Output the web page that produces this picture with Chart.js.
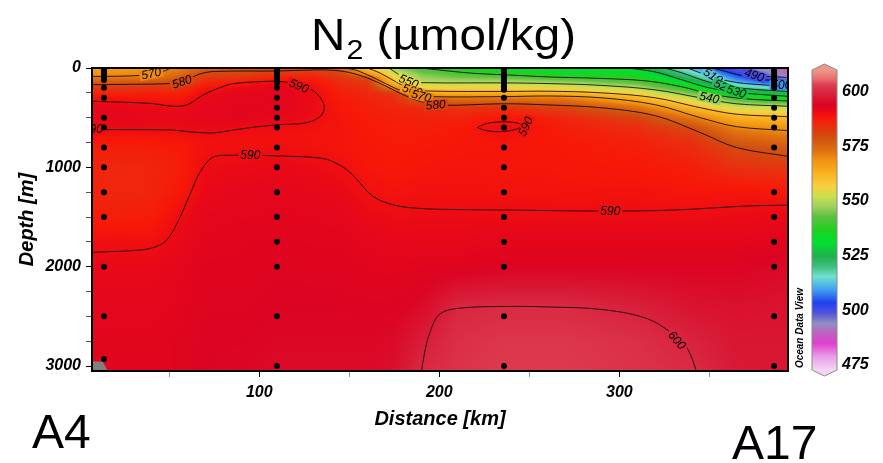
<!DOCTYPE html>
<html>
<head>
<meta charset="utf-8">
<script src="https://cdn.jsdelivr.net/npm/chart.js@4.4.1/dist/chart.umd.min.js"></script>
<style>
  html, body { margin: 0; padding: 0; background: #fff; }
</style>
</head>
<body>
<canvas id="chart" width="883" height="463"></canvas>
<script>
// ---- gridded N2 field: one profile (values at gridDepth) per distance in gridKm
const gridKm = [7, 20, 40, 55, 70, 90, 110, 130, 145, 160, 175, 190, 210, 236, 270, 310, 340, 365, 394];
const gridDepth = [0, 25, 60, 100, 150, 200, 250, 300, 400, 500, 600, 700, 800, 1000, 1250, 1500, 1750, 2000, 2400, 2750, 3060];
const n2Profiles = [
  [565, 567, 568.5, 572, 578, 583, 586, 589, 591.5, 591.5, 590.3, 588.5, 587, 586, 586.5, 587.5, 589.5, 591, 592, 592.5, 592.5],
  [566, 567.5, 569.5, 572.5, 578, 583, 586, 588.8, 591.5, 592, 590.5, 588.5, 587, 585.5, 585.5, 587, 589.7, 591, 592, 592.5, 592.5],
  [568, 569, 569.8, 573, 579, 583.5, 586.5, 588.5, 590.6, 591.5, 590.6, 588.7, 587.2, 586, 586, 587.5, 589.5, 591, 592, 592.5, 592.5],
  [571, 572, 574, 576.5, 580, 583.5, 586, 588, 590.3, 591.5, 590.5, 588.8, 587.8, 587, 588, 590, 591, 592, 592.5, 593, 593],
  [575, 578, 580.5, 583, 586, 588.5, 590.3, 591.2, 592, 592, 591, 589.7, 589.3, 590.2, 591, 592, 592.5, 593, 593.5, 594, 594],
  [576, 578.5, 581, 584, 588, 590.5, 591.5, 592, 592.5, 592.5, 590.2, 589.4, 589.5, 590.6, 591.8, 592.3, 592.8, 593, 593.5, 594, 594.5],
  [577, 580.5, 584, 587, 590.5, 592, 592.5, 592.5, 592.3, 591.5, 589.8, 589.3, 589.6, 591, 592, 592.5, 593, 593.5, 594, 594.5, 595],
  [578.5, 581, 584, 586.5, 588.5, 589.9, 590.4, 590.6, 590.5, 590.2, 589.5, 589, 589.3, 590.5, 591.5, 592.3, 592.8, 593.3, 594, 594.5, 595],
  [572, 578.5, 581.5, 583.5, 585, 586, 587, 587.5, 588.3, 588.7, 588.8, 588.8, 588.7, 589.8, 591, 592, 592.7, 593.2, 594, 594.5, 595],
  [560, 564, 568.5, 580, 583, 584.5, 585.5, 586.3, 587, 587.5, 587.8, 588, 588.2, 588.5, 589.6, 590.8, 592, 592.8, 593.8, 594.5, 595],
  [548, 550, 553, 557, 562, 570, 582, 584.5, 586, 586.8, 587.2, 587.5, 587.7, 588, 589, 590.3, 591.5, 592.5, 593.8, 595, 596],
  [540, 542, 545, 547.5, 550.5, 557, 564.5, 574.5, 585, 586.5, 587, 587.5, 588, 588.5, 589.3, 590.4, 591.5, 592.8, 595, 598, 600],
  [536, 538.5, 541.5, 545, 550, 556.5, 562.5, 572, 583.5, 586, 587.5, 588, 588.3, 588.7, 589.3, 590.4, 591.5, 593, 599.5, 601, 601.5],
  [532, 534, 539, 544, 550, 556, 563, 572, 584, 588.5, 590.2, 589, 588.5, 588.5, 589.2, 590.3, 592, 594, 600.2, 602, 602.5],
  [530, 531.5, 535.5, 540.5, 548, 555, 561.5, 571, 581, 585.5, 587, 587.5, 588, 588.3, 589, 590.2, 592, 594, 600.2, 602, 602.5],
  [529.5, 531.5, 534, 538, 543, 549.5, 556, 562, 573.5, 581, 584.5, 586, 587, 588, 589, 590.3, 592, 594, 598.5, 601, 601.5],
  [511, 514, 518, 522, 530, 537, 544, 551, 562, 572, 579.5, 583, 585, 587, 588.5, 590.2, 592, 594, 596.5, 599, 600.5],
  [498, 500, 503, 507, 512, 520, 530, 540, 553, 563, 570.5, 575.5, 580, 584, 588.8, 590.5, 592, 594, 596, 597, 597.5],
  [488, 489, 491, 494.5, 503, 513, 523, 533, 552, 561, 568, 572.5, 577, 583, 588, 591, 593, 595, 596.5, 597, 597]
];

// ---- sample positions (stations A4 ... A17)
const stationKm = [13.7, 109.8, 235.9, 386];
const stationDepths = [
  [10, 25, 40, 60, 80, 100, 120, 200, 300, 500, 600, 800, 1000, 1250, 1500, 2000, 2500, 2930],
  [5, 10, 20, 30, 40, 50, 60, 75, 90, 100, 125, 150, 200, 300, 400, 500, 600, 800, 1000, 1250, 1500, 1750, 2000, 2500, 3000],
  [5, 25, 50, 75, 100, 125, 150, 175, 200, 220, 300, 400, 500, 600, 800, 1000, 1250, 1500, 1750, 2000, 2500, 3000],
  [5, 25, 50, 75, 100, 125, 150, 175, 200, 300, 400, 500, 600, 800, 1250, 1500, 1750, 2000, 2500, 3000]
];

// ---- contour lines [km, m]
const c490 = [[368, 0], [372, 40], [380, 80], [394, 95]];
const c500 = [[352, 0], [360, 40], [370, 85], [382, 120], [394, 135]];
const c510 = [[338, 0], [345, 50], [352, 95], [365, 145], [380, 170], [394, 185]];
const c520 = [[325, 0], [335, 50], [345, 115], [358, 180], [375, 215], [394, 236]];
const c530 = [[305, 0], [320, 40], [335, 120], [350, 200], [368, 250], [394, 286]];
const c540 = [[190, 0], [205, 30], [220, 55], [236, 68], [261, 90], [290, 105], [315, 130], [335, 190], [350, 260], [370, 310], [394, 332]];
const c550 = [[172, 0], [177, 60], [183, 130], [192, 148], [236, 150], [261, 157], [290, 175], [320, 220], [345, 300], [365, 360], [394, 385]];
const c560 = [[160, 0], [167, 50], [175, 130], [184, 210], [195, 232], [236, 236], [261, 234], [290, 250], [320, 300], [345, 400], [365, 465], [394, 490]];
const c570a = [[7, 85], [22, 83], [33, 75], [42, 58], [48, 25], [51, 0]];
const c570b = [[148, 0], [155, 30], [165, 110], [175, 200], [185, 265], [195, 288], [236, 288], [261, 282], [290, 300], [320, 370], [345, 500], [365, 590], [394, 630]];
const c580 = [[7, 168], [25, 165], [45, 160], [55, 148], [60, 118], [67, 60], [75, 35], [110, 30], [130, 20], [140, 22], [150, 45], [160, 100], [170, 180], [180, 270], [190, 340], [200, 375], [236, 360], [261, 372], [290, 400], [320, 480], [345, 650], [365, 800], [394, 890]];
const c590a = [[7, 335], [25, 345], [40, 357], [52, 385], [60, 370], [68, 280], [75, 220], [85, 160], [100, 138], [110, 135], [122, 165], [130, 230], [135, 330], [136, 420], [133, 500], [125, 555], [111, 570], [95, 600], [80, 640], [73, 655], [60, 640], [52, 625], [30, 620], [7, 620]];
const c590b = [[7, 1855], [35, 1830], [45, 1780], [50, 1700], [56, 1500], [62, 1250], [67, 1050], [74, 900], [84, 878], [100, 880], [110, 885], [135, 910], [145, 980], [152, 1080], [163, 1290], [175, 1380], [190, 1415], [210, 1425], [240, 1430], [290, 1440], [330, 1430], [370, 1390], [394, 1380]];
const c590c = [[221, 600], [226, 560], [234, 543], [242, 550], [246, 578], [243, 615], [234, 640], [226, 630], [221, 600]];
const c600 = [[190, 3060], [192, 2850], [195, 2650], [200, 2480], [210, 2420], [236, 2400], [260, 2405], [290, 2430], [315, 2520], [330, 2680], [338, 2830], [343, 3060]];
const contourLines = [c490, c500, c510, c520, c530, c540, c550, c560, c570a, c570b, c580, c590a, c590b, c590c, c600];

// label text, km, m, angle (deg)
const contourLabels = [
  ['570', 40, 58, -12], ['580', 57, 140, -18], ['590', 122, 180, 22], ['590', 7.5, 620, 0],
  ['590', 95, 880, 0], ['550', 183, 135, 22], ['560', 185, 225, 18], ['570', 190, 282, 15],
  ['580', 198, 372, -5], ['590', 248, 590, -65], ['590', 295, 1442, 0], ['600', 332, 2740, 48],
  ['490', 375, 72, 18], ['500', 390, 172, 0], ['510', 352, 80, 32], ['520', 358, 188, 25],
  ['530', 365, 238, 18], ['540', 350, 300, 12]
];

// sea floor (missing data) at the A4 end
const bottomMask = [[7, 2955], [13, 2955], [16, 3060]];

// axis ticks
const xTickValues = [50, 100, 150, 200, 250, 300, 350];
const yTickValues = [0, 250, 500, 750, 1000, 1250, 1500, 1750, 2000, 2250, 2500, 2750, 3000];
const cbTicks = [475, 500, 525, 550, 575, 600];

// colour bar (ODV rainbow)
const cmapValues = [472, 478.6, 485, 489.6, 494, 499, 503.5, 509.5, 515.5, 520, 524.5, 531, 537, 543, 547.5, 552, 556.5, 563, 569, 573, 579, 584, 588, 591, 594, 598, 600.5, 603, 606, 611];
const cmapColors = ['#f6dcf6', '#e8a0e8', '#e040d0', '#c060c0', '#9090c0', '#5050e0', '#2040f0', '#40a0f0', '#70e0d0', '#40c080', '#20b050', '#00e030', '#20d020', '#60c040', '#a0d060', '#c8e050', '#f8d040', '#f8b020', '#f09010', '#e07010', '#d05010', '#e83010', '#f81808', '#e80818', '#dc0422', '#d81c38', '#da2c44', '#de3c50', '#e87070', '#f0a090'];

const FONT = 'Liberation Sans, Arial, sans-serif';
const cmapRgb = cmapColors.map(h => [1, 3, 5].map(k => parseInt(h.slice(k, k + 2), 16)));

function colourOf(v) {
  const n = cmapValues.length;
  if (v <= cmapValues[0]) return cmapRgb[0];
  if (v >= cmapValues[n - 1]) return cmapRgb[n - 1];
  let k = 0;
  while (v > cmapValues[k + 1]) k++;
  const t = (v - cmapValues[k]) / (cmapValues[k + 1] - cmapValues[k]);
  const a = cmapRgb[k], b = cmapRgb[k + 1];
  return [0, 1, 2].map(c => a[c] + (b[c] - a[c]) * t);
}
const css = rgb => `rgb(${rgb.map(Math.round).join(',')})`;

function locate(arr, v) {
  const n = arr.length;
  if (v <= arr[0]) return [0, 0];
  if (v >= arr[n - 1]) return [n - 2, 1];
  let k = 0;
  while (v > arr[k + 1]) k++;
  return [k, (v - arr[k]) / (arr[k + 1] - arr[k])];
}

function fieldAt(km, m) {
  const [i, s] = locate(gridKm, km);
  const [j, t] = locate(gridDepth, m);
  const p0 = n2Profiles[i], p1 = n2Profiles[i + 1];
  const a = p0[j] * (1 - t) + p0[j + 1] * t;
  const b = p1[j] * (1 - t) + p1[j + 1] * t;
  return a * (1 - s) + b * s;
}

// colour field under everything
const fieldPlugin = {
  id: 'field',
  beforeDatasetsDraw(chart) {
    const { ctx, chartArea: a, scales: { x, y } } = chart;
    const w = Math.round(a.right - a.left), h = Math.round(a.bottom - a.top);
    const off = document.createElement('canvas');
    off.width = w; off.height = h;
    const octx = off.getContext('2d');
    const img = octx.createImageData(w, h);
    const kms = [], ms = [];
    for (let i = 0; i < w; i++) kms.push(x.getValueForPixel(a.left + i + 0.5));
    for (let j = 0; j < h; j++) ms.push(y.getValueForPixel(a.top + j + 0.5));
    let p = 0;
    for (let j = 0; j < h; j++) {
      for (let i = 0; i < w; i++) {
        const c = colourOf(fieldAt(kms[i], ms[j]));
        img.data[p++] = c[0]; img.data[p++] = c[1]; img.data[p++] = c[2]; img.data[p++] = 255;
      }
    }
    octx.putImageData(img, 0, 0);
    ctx.drawImage(off, a.left, a.top);
  }
};

// contour labels, drawn just before the station dots
const labelPlugin = {
  id: 'clabels',
  beforeDatasetDraw(chart, args) {
    if (args.index !== 0) return;
    const { ctx, chartArea: a, scales: { x, y } } = chart;
    ctx.save();
    ctx.beginPath();
    ctx.rect(a.left, a.top, a.right - a.left, a.bottom - a.top);
    ctx.clip();
    ctx.font = `italic 12px ${FONT}`;
    ctx.textAlign = 'center';
    ctx.textBaseline = 'middle';
    contourLabels.forEach(([txt, km, m, ang]) => {
      const w = ctx.measureText(txt).width;
      ctx.save();
      ctx.translate(x.getPixelForValue(km), y.getPixelForValue(m));
      ctx.rotate(ang * Math.PI / 180);
      ctx.fillStyle = css(colourOf(fieldAt(km, m)));
      ctx.fillRect(-w / 2 - 2, -5, w + 4, 10);
      ctx.fillStyle = '#000';
      ctx.fillText(txt, 0, 0.5);
      ctx.restore();
    });
    ctx.restore();
  }
};

// title, colour bar, frame and station names
const decorPlugin = {
  id: 'decor',
  afterDraw(chart) {
    const { ctx, chartArea: a } = chart;
    const cb = chart.scales.cb;
    ctx.save();
    ctx.strokeStyle = '#000';
    ctx.lineWidth = 2;
    ctx.strokeRect(a.left, a.top, a.right - a.left, a.bottom - a.top);

    // colour bar
    const bx = 812, bw = 25, top = 70, bot = 370;
    for (let py = top; py < bot; py++) {
      ctx.fillStyle = css(colourOf(cb.getValueForPixel(py + 0.5)));
      ctx.fillRect(bx, py, bw, 1);
    }
    ctx.fillStyle = css(colourOf(cb.getValueForPixel(top)));
    ctx.beginPath(); ctx.moveTo(bx, top); ctx.lineTo(bx + bw / 2, top - 6); ctx.lineTo(bx + bw, top); ctx.closePath(); ctx.fill();
    ctx.fillStyle = css(colourOf(cb.getValueForPixel(bot)));
    ctx.beginPath(); ctx.moveTo(bx, bot); ctx.lineTo(bx + bw / 2, bot + 6); ctx.lineTo(bx + bw, bot); ctx.closePath(); ctx.fill();
    ctx.strokeStyle = '#8a8a8a';
    ctx.lineWidth = 1;
    ctx.beginPath();
    ctx.moveTo(bx, top); ctx.lineTo(bx + bw / 2, top - 6); ctx.lineTo(bx + bw, top);
    ctx.lineTo(bx + bw, bot); ctx.lineTo(bx + bw / 2, bot + 6); ctx.lineTo(bx, bot); ctx.closePath();
    ctx.stroke();

    // Ocean Data View
    ctx.fillStyle = '#000';
    ctx.save();
    ctx.translate(800, 328);
    ctx.rotate(-Math.PI / 2);
    ctx.font = `italic bold 10px ${FONT}`;
    ctx.textAlign = 'center';
    ctx.textBaseline = 'middle';
    ctx.fillText('Ocean Data View', 0, 0);
    ctx.restore();

    // title N2 (µmol/kg)
    ctx.textAlign = 'left';
    ctx.textBaseline = 'alphabetic';
    ctx.font = `44px ${FONT}`;
    const wN = ctx.measureText('N').width;
    const rest = ' (\u00b5mol/kg)';
    const wR = ctx.measureText(rest).width;
    ctx.font = `28px ${FONT}`;
    const w2 = ctx.measureText('2').width;
    const total = wN + w2 + 1 + wR;
    ctx.save();
    ctx.translate(311, 50);
    ctx.scale(265 / total, 1);
    ctx.font = `44px ${FONT}`;
    ctx.fillText('N', 0, 0);
    ctx.fillText(rest, wN + w2 + 1, 0);
    ctx.font = `28px ${FONT}`;
    ctx.fillText('2', wN + 1, 9);
    ctx.restore();

    // section ends
    ctx.font = `48px ${FONT}`;
    ctx.fillText('A4', 32, 448);
    ctx.fillText('A17', 732, 459);
    ctx.restore();
  }
};

const tickFont = { family: FONT, size: 16, style: 'italic', weight: 'bold' };
const titleFont = { family: FONT, size: 20, style: 'italic', weight: 'bold' };
const pts = arr => arr.map(([x, y]) => ({ x, y }));

const datasets = [
  {
    label: 'samples',
    data: stationKm.flatMap((km, k) => stationDepths[k].map(m => ({ x: km, y: m }))),
    pointRadius: 3, pointBackgroundColor: '#000', pointBorderWidth: 0,
    showLine: false, order: 0
  },
  ...contourLines.map(line => ({
    data: pts(line), showLine: true, pointRadius: 0, borderColor: '#000',
    borderWidth: 0.8, tension: 0.35, fill: false, order: 1
  })),
  {
    data: pts(bottomMask), showLine: true, pointRadius: 0, borderWidth: 0,
    backgroundColor: '#808080', fill: { value: 3050 }, tension: 0, order: 2
  }
];

new Chart(document.getElementById('chart'), {
  type: 'scatter',
  data: { datasets },
  options: {
    responsive: false,
    animation: false,
    events: [],
    layout: { padding: { top: 68, left: 0, right: 0, bottom: 0 } },
    plugins: { legend: { display: false }, tooltip: { enabled: false } },
    scales: {
      x: {
        type: 'linear', min: 7.06, max: 393.7,
        afterFit: s => { s.height = 92; },
        afterBuildTicks: s => { s.ticks = xTickValues.map(v => ({ value: v })); },
        ticks: { autoSkip: false, maxTicksLimit: 100, maxRotation: 0, padding: 6, color: '#000', font: tickFont,
                 callback: v => (v % 100 === 0 ? String(v) : '') },
        grid: { drawOnChartArea: false, tickLength: 6, tickWidth: 1,
                tickColor: c => (c.tick && c.tick.value % 100 === 0 ? '#000' : '#999') },
        border: { display: false },
        title: { display: true, text: 'Distance [km]', color: '#000', font: titleFont, padding: { bottom: 32 } }
      },
      y: {
        type: 'linear', reverse: true, min: 0, max: 3050,
        afterFit: s => { s.width = 92; },
        afterBuildTicks: s => { s.ticks = yTickValues.map(v => ({ value: v })); },
        ticks: { autoSkip: false, maxTicksLimit: 100, padding: 5, color: '#000', font: tickFont,
                 callback: v => (v % 1000 === 0 ? String(v) : '') },
        grid: { drawOnChartArea: false, tickLength: 6, tickWidth: 1,
                tickColor: c => (c.tick && c.tick.value % 1000 === 0 ? '#000' : '#555') },
        border: { display: false },
        title: { display: true, text: 'Depth [m]', color: '#000', font: titleFont, padding: { top: 15 } }
      },
      cb: {
        type: 'linear', position: 'right', min: 472.26, max: 610.84,
        afterFit: s => { s.width = 95; },
        afterBuildTicks: s => { s.ticks = cbTicks.map(v => ({ value: v })); },
        ticks: { autoSkip: false, padding: 54, color: '#000', font: tickFont },
        grid: { display: false, drawTicks: false },
        border: { display: false }
      }
    }
  },
  plugins: [fieldPlugin, labelPlugin, decorPlugin]
});
</script>
</body>
</html>
